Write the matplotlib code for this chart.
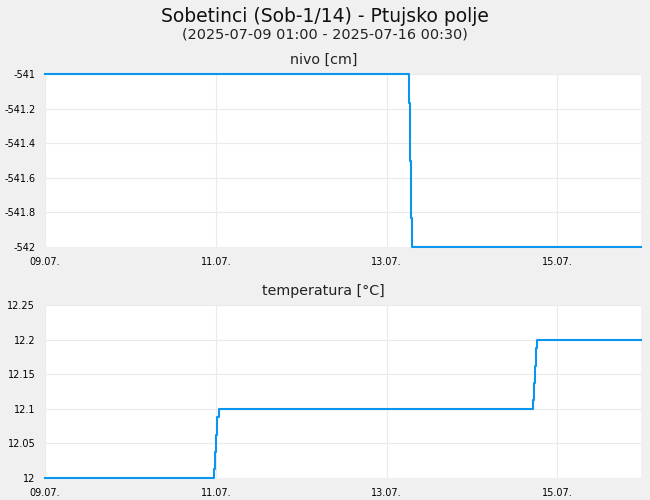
import pandas as pd
import matplotlib
matplotlib.use("Agg")
import matplotlib.pyplot as plt
import matplotlib.dates as mdates

TITLE = "Sobetinci (Sob-1/14) - Ptujsko polje"
SUBTITLE = "(2025-07-09 01:00 - 2025-07-16 00:30)"
X_START = "2025-07-09 00:00"
X_END = "2025-07-15 23:30"

# change points of the level series (cm)
nivo_times = ["2025-07-09 00:00", "2025-07-13 06:24", "2025-07-13 06:41",
              "2025-07-13 06:57", "2025-07-13 07:12", "2025-07-15 23:30"]
nivo_values = [-541.0, -541.166, -541.5, -541.835, -542.0, -542.0]

# change points of the temperature series (°C)
temp_times = ["2025-07-09 00:00", "2025-07-10 23:35", "2025-07-10 23:47",
              "2025-07-11 00:04", "2025-07-11 00:20", "2025-07-11 00:50",
              "2025-07-14 17:14", "2025-07-14 17:31", "2025-07-14 17:48",
              "2025-07-14 18:05", "2025-07-14 18:22", "2025-07-15 23:30"]
temp_values = [12.0, 12.0125, 12.0375, 12.0625, 12.0875, 12.1,
               12.1125, 12.1375, 12.1625, 12.1875, 12.2, 12.2]

nivo_ticks = [-542, -541.8, -541.6, -541.4, -541.2, -541]
temp_ticks = [12, 12.05, 12.1, 12.15, 12.2, 12.25]

LINE_COLOR = "#0a96f0"
BG = "#f0f0f0"
GRID = "#ebebeb"


def style_axis(ax, title, ticks, labels):
    ax.set_facecolor("white")
    for s in ax.spines.values():
        s.set_visible(False)
    ax.set_xlim(pd.Timestamp(X_START), pd.Timestamp(X_END))
    ax.set_ylim(ticks[0], ticks[-1])
    ax.set_yticks(ticks)
    ax.set_yticklabels(labels)
    ax.xaxis.set_major_locator(mdates.DayLocator(bymonthday=[9, 11, 13, 15]))
    ax.xaxis.set_major_formatter(mdates.DateFormatter("%d.%m."))
    ax.tick_params(length=0, labelsize=7, pad=7)
    ax.grid(True, color=GRID, linewidth=0.8)
    ax.set_axisbelow(True)
    # panel titles sit at the figure centre, not the axes centre
    ax.set_title(title, fontsize=10.3, pad=7, color="#222222", x=0.467)


fig = plt.figure(figsize=(6.5, 5), dpi=100, facecolor=BG)
fig.text(0.5, 0.968, TITLE, ha="center", va="center", fontsize=13.5, color="#111111")
fig.text(0.5, 0.931, SUBTITLE, ha="center", va="center", fontsize=10.4, color="#222222")

ax1 = fig.add_axes([45 / 650, 1 - 247 / 500, 596 / 650, 173 / 500])
ax1.plot(pd.to_datetime(nivo_times), nivo_values, drawstyle="steps-post",
         color=LINE_COLOR, linewidth=1.5, clip_on=False)
style_axis(ax1, "nivo [cm]", nivo_ticks,
           ["-542", "-541.8", "-541.6", "-541.4", "-541.2", "-541"])

ax2 = fig.add_axes([45 / 650, 1 - 478 / 500, 596 / 650, 173 / 500])
ax2.plot(pd.to_datetime(temp_times), temp_values, drawstyle="steps-post",
         color=LINE_COLOR, linewidth=1.5, clip_on=False)
style_axis(ax2, "temperatura [°C]", temp_ticks,
           ["12", "12.05", "12.1", "12.15", "12.2", "12.25"])

fig.savefig("out.png", dpi=100, facecolor=BG)
